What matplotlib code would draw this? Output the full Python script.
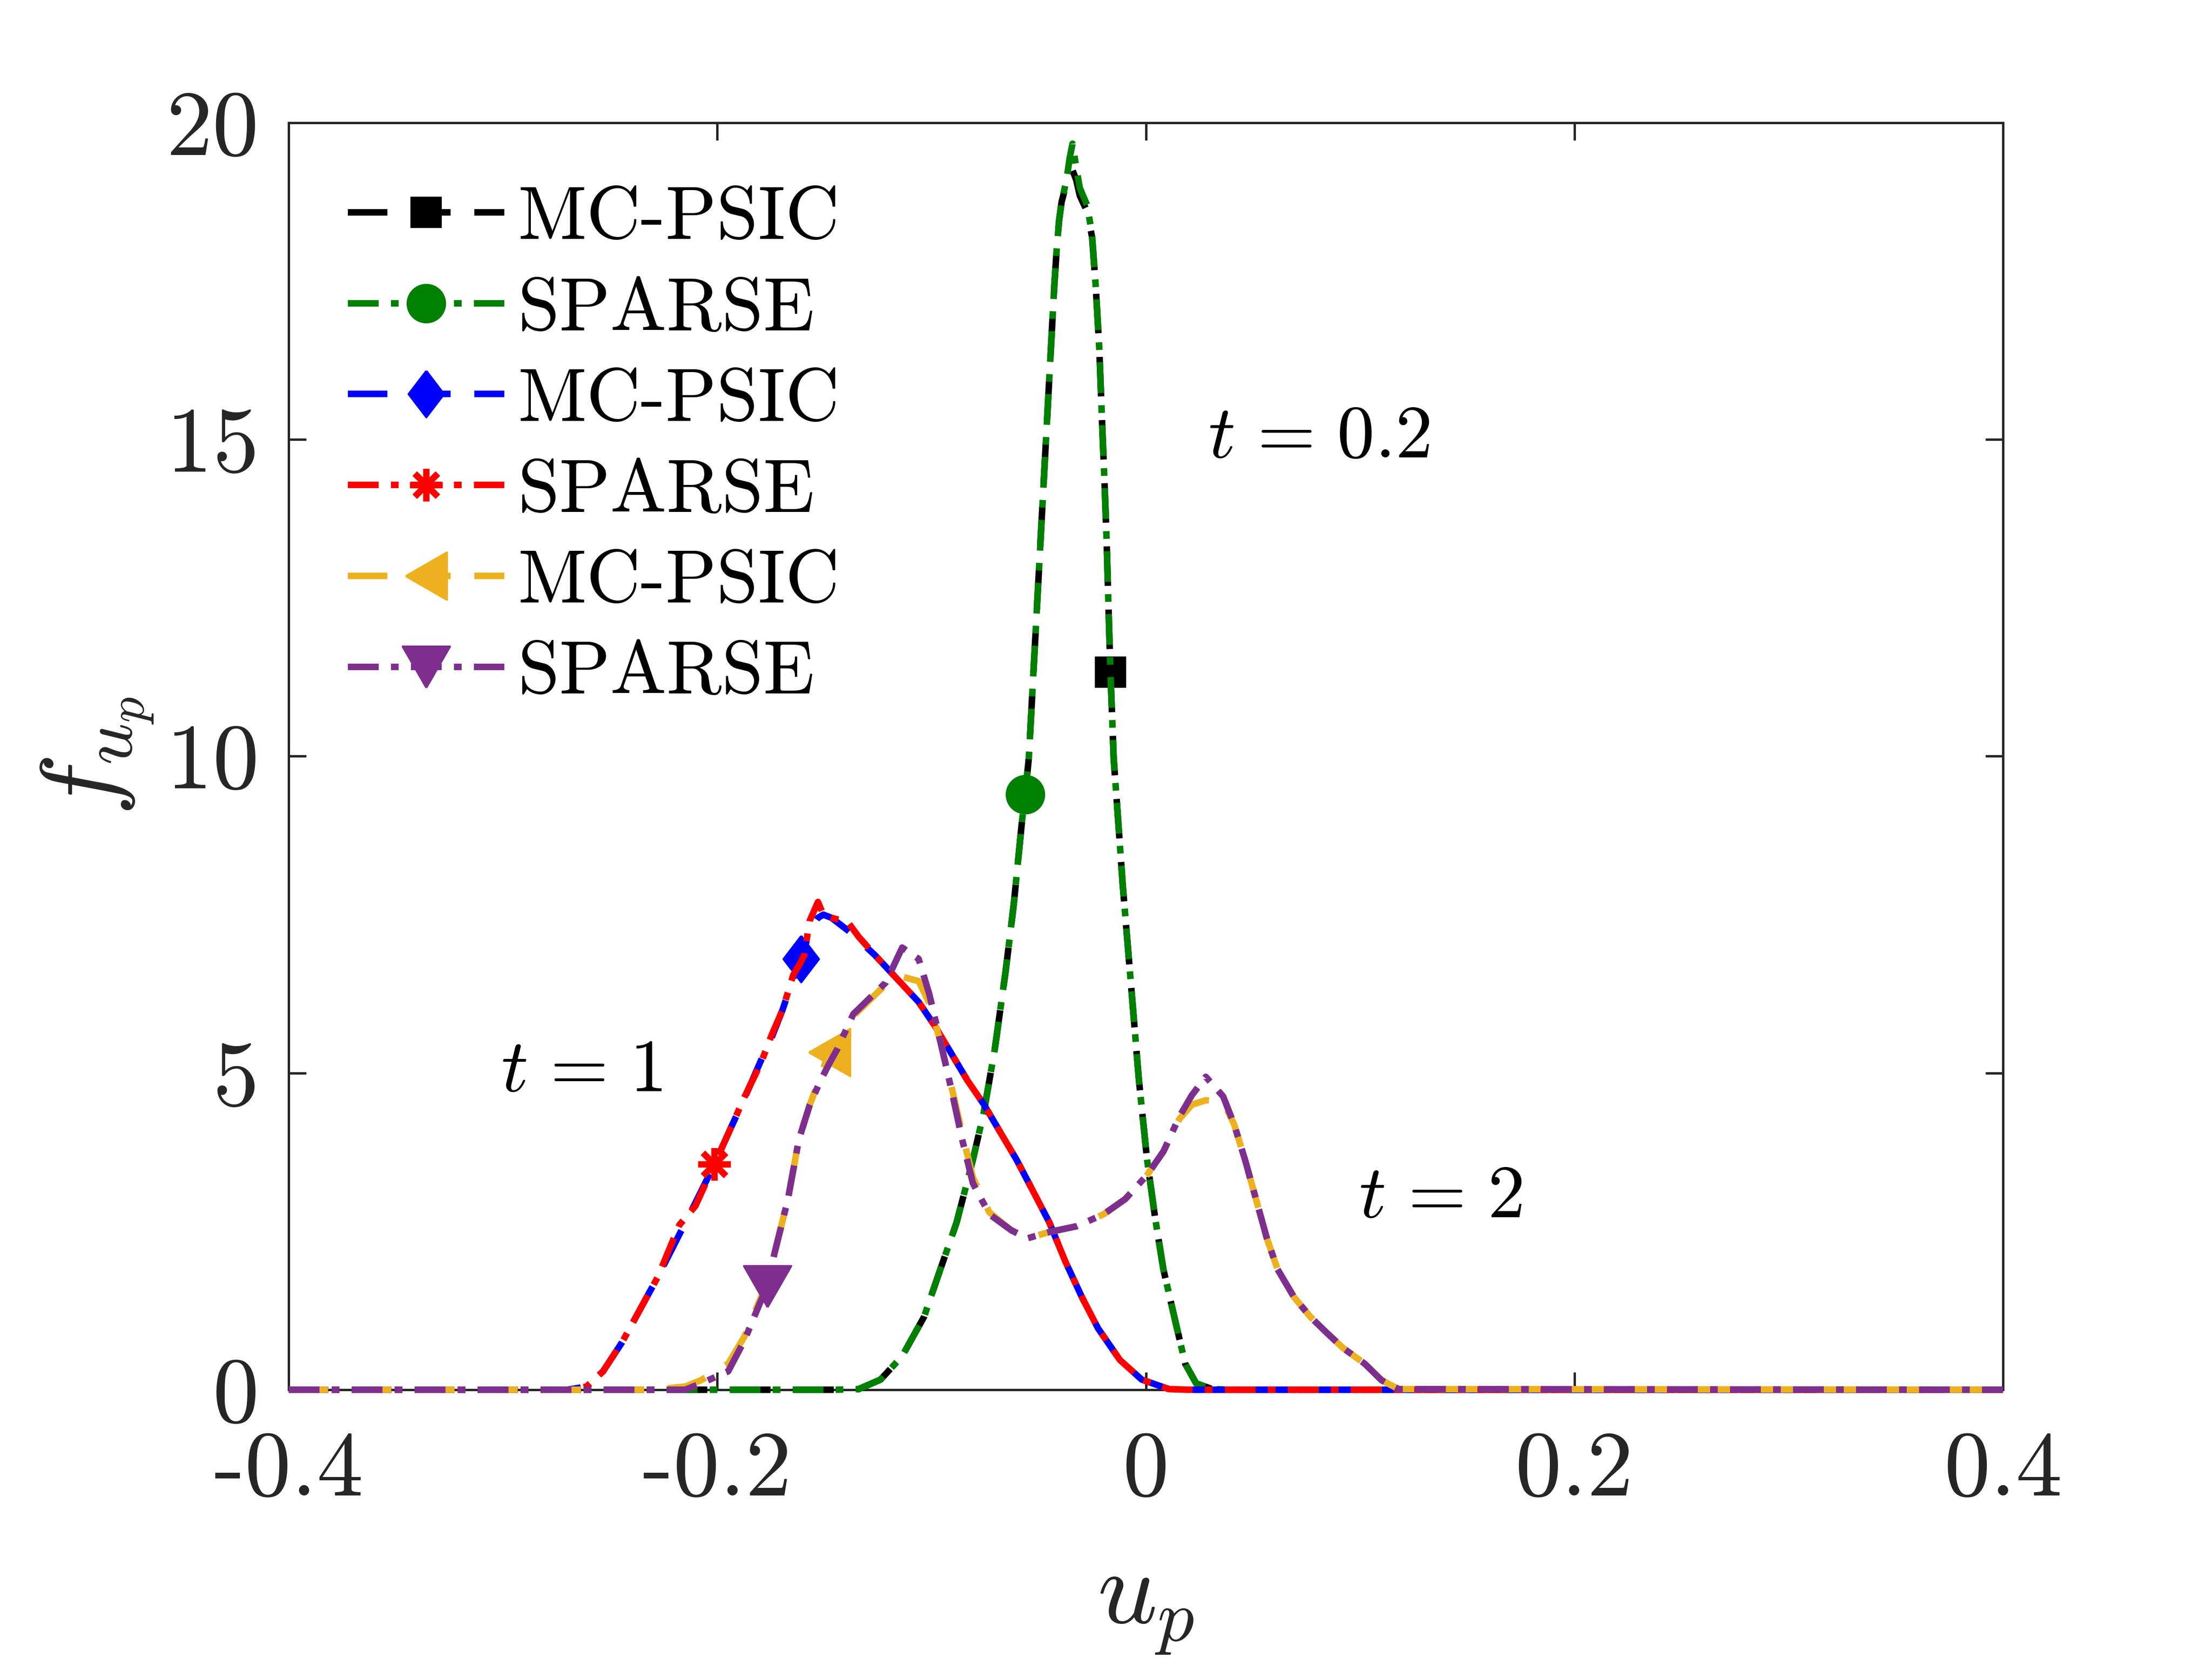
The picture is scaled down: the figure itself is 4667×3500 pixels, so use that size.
import numpy as np
import matplotlib
matplotlib.use("Agg")
import matplotlib.pyplot as plt

plt.rcParams['font.family'] = 'cmr10'
plt.rcParams['mathtext.fontset'] = 'cm'
plt.rcParams['axes.unicode_minus'] = False
plt.rcParams['lines.scale_dashes'] = False

# t = 0.2 : MC-PSIC (black) and SPARSE (green)
x_02 = [-0.4, -0.145, -0.134, -0.1238, -0.1137, -0.1035, -0.0959, -0.0883, -0.0807,
        -0.0756, -0.0705, -0.0654, -0.0616, -0.0578, -0.0563, -0.0546, -0.0529, -0.0512,
        -0.0495, -0.0478, -0.0461, -0.0444, -0.0427, -0.0416, -0.0405, -0.0393, -0.037,
        -0.0355, -0.0342, -0.0325, -0.0308, -0.0274, -0.0251, -0.0234, -0.0217, -0.0206,
        -0.0194, -0.0183, -0.0172, -0.0165, -0.015, -0.0134, -0.0108, -0.007, -0.0032,
        0.0006, 0.0044, 0.0082, 0.0133, 0.0184, 0.0235, 0.031, 0.04, 0.4]
y_sp_02 = [0, 0, 0.01, 0.16, 0.53, 1.15, 1.90, 2.64, 3.63,
           4.38, 5.37, 6.61, 7.67, 8.97, 9.40, 9.97, 11.04, 12.10,
           13.17, 14.24, 15.30, 16.37, 17.43, 18.00, 18.45, 18.75, 19.10,
           19.45, 19.67, 19.30, 18.97, 18.70, 18.24, 17.43, 16.43, 15.43,
           14.43, 13.43, 12.09, 11.33, 9.97, 9.22, 7.98, 6.43, 4.88,
           3.63, 2.70, 1.90, 1.15, 0.41, 0.10, 0.01, 0, 0]
y_mc_02 = [0, 0, 0.01, 0.16, 0.53, 1.15, 1.90, 2.64, 3.63,
           4.38, 5.37, 6.61, 7.67, 8.97, 9.40, 9.97, 11.04, 12.10,
           13.17, 14.24, 15.30, 16.37, 17.43, 18.00, 18.45, 18.75, 19.05,
           19.20, 19.25, 19.10, 18.85, 18.60, 18.20, 17.43, 16.43, 15.43,
           14.43, 13.43, 12.09, 11.33, 9.97, 9.22, 7.98, 6.43, 4.88,
           3.63, 2.70, 1.90, 1.15, 0.41, 0.10, 0.01, 0, 0]

# t = 1 : MC-PSIC (blue) and SPARSE (red)
x_1 = [-0.4, -0.27, -0.261, -0.2533, -0.2444, -0.2368, -0.2279, -0.2177, -0.2102,
       -0.2013, -0.1937, -0.1873, -0.1797, -0.1746, -0.1696, -0.1645, -0.161, -0.1594,
       -0.1569, -0.153, -0.1505, -0.1467, -0.139, -0.134, -0.1264, -0.1162, -0.106,
       -0.0984, -0.0908, -0.0832, -0.0755, -0.068, -0.0603, -0.0527, -0.045, -0.0375,
       -0.0298, -0.0223, -0.0121, -0.0019, 0.0108, 0.02, 0.4]
y_mc_1 = [0, 0, 0.05, 0.29, 0.75, 1.22, 1.77, 2.45, 2.95,
          3.56, 4.13, 4.60, 5.19, 5.56, 5.99, 6.50, 6.80, 6.95,
          7.25, 7.45, 7.50, 7.45, 7.25, 7.10, 6.86, 6.49, 6.12,
          5.74, 5.31, 4.88, 4.50, 4.07, 3.63, 3.14, 2.64, 2.02,
          1.46, 0.97, 0.47, 0.16, 0.01, 0, 0]
y_sp_1 = [0, 0, 0.05, 0.29, 0.75, 1.22, 1.77, 2.60, 2.90,
          3.56, 4.13, 4.62, 5.15, 5.60, 5.99, 6.55, 6.75, 6.86,
          7.40, 7.70, 7.50, 7.45, 7.38, 7.15, 6.86, 6.49, 6.12,
          5.74, 5.31, 4.88, 4.50, 4.07, 3.63, 3.14, 2.64, 2.02,
          1.46, 0.97, 0.47, 0.16, 0.01, 0, 0]

# t = 2 : MC-PSIC (yellow) and SPARSE (purple)
x_2 = [-0.4, -0.23, -0.215, -0.2076, -0.1949, -0.1873, -0.1797, -0.1766, -0.1733,
       -0.167, -0.1619, -0.1568, -0.1518, -0.1477, -0.1441, -0.1365, -0.1289, -0.1213,
       -0.1137, -0.106, -0.101, -0.0959, -0.0908, -0.0857, -0.0807, -0.073, -0.0629,
       -0.0553, -0.045, -0.0324, -0.0197, -0.0096, 0.0006, 0.0082, 0.0158, 0.0215,
       0.028, 0.0361, 0.0412, 0.0463, 0.0514, 0.0565, 0.0615, 0.0692, 0.0768,
       0.0844, 0.092, 0.1022, 0.11, 0.118, 0.4]
y_mc_2 = [0, 0, 0.05, 0.15, 0.41, 0.84, 1.45, 1.70, 2.15,
          3.01, 3.95, 4.50, 4.95, 5.33, 5.40, 5.90, 6.15, 6.40,
          6.52, 6.45, 6.10, 5.50, 4.80, 4.05, 3.35, 2.80, 2.52,
          2.39, 2.49, 2.58, 2.77, 3.01, 3.39, 3.76, 4.28, 4.50,
          4.57, 4.55, 4.19, 3.63, 3.01, 2.39, 1.90, 1.46, 1.15,
          0.90, 0.66, 0.41, 0.15, 0.01, 0]
y_sp_2 = [0, 0, 0.0, 0.10, 0.29, 0.78, 1.40, 1.63, 2.15,
          3.01, 3.95, 4.50, 4.88, 5.15, 5.37, 5.93, 6.18, 6.43,
          6.98, 6.80, 6.24, 5.50, 4.75, 3.95, 3.26, 2.77, 2.52,
          2.39, 2.49, 2.58, 2.77, 3.01, 3.39, 3.76, 4.32, 4.65,
          4.94, 4.63, 4.19, 3.63, 3.01, 2.39, 1.90, 1.46, 1.15,
          0.90, 0.66, 0.41, 0.15, 0.01, 0]

labels = ['MC-PSIC', 'SPARSE', 'MC-PSIC', 'SPARSE', 'MC-PSIC', 'SPARSE']
xticks = [-0.4, -0.2, 0, 0.2, 0.4]
xtick_labels = ['-0.4', '-0.2', '0', '0.2', '0.4']
yticks = [0, 5, 10, 15, 20]
ytick_labels = ['0', '5', '10', '15', '20']

# marker positions (one marker per curve)
i_sq = x_02.index(-0.0165)
i_circ = x_02.index(-0.0563)
i_diam = x_1.index(-0.161)
i_star = x_1.index(-0.2013)
i_ltri = x_2.index(-0.1477)
i_dtri = x_2.index(-0.1766)

DASH = (0, (20, 12))
DASHDOT = (0, (15.6, 6.2, 3.9, 6.2))
diamond = [(0, 1), (0.765, 0), (0, -1), (-0.765, 0), (0, 1)]
left_tri = [(-0.435, 0), (0.435, 0.5), (0.435, -0.5), (-0.435, 0)]
down_tri = [(0, -0.435), (-0.5, 0.435), (0.5, 0.435), (0, -0.435)]

black = 'k'
green = '#008000'
blue = '#0000FF'
red = '#FF0000'
yellow = '#EDB120'
purple = '#7E2F8E'

fig = plt.figure(figsize=(4667 / 300, 3500 / 300), dpi=300)
ax = fig.add_axes([0.1305, 0.1623, 0.775, 0.7637])

lw = 3.3
ax.plot(x_02, y_mc_02, color=black, ls=DASH, lw=lw, marker='s', ms=15,
        markevery=[i_sq], mfc=black, mec=black, mew=1, label=labels[0], clip_on=False)
ax.plot(x_02, y_sp_02, color=green, ls=DASHDOT, lw=lw, marker='o', ms=19,
        markevery=[i_circ], mfc=green, mec=green, mew=1, label=labels[1], clip_on=False)
ax.plot(x_1, y_mc_1, color=blue, ls=DASH, lw=lw, marker=diamond, ms=23.5,
        markevery=[i_diam], mfc=blue, mec=blue, mew=1, label=labels[2], clip_on=False)
ax.plot(x_1, y_sp_1, color=red, ls=DASHDOT, lw=lw, marker=(8, 2, 0), ms=16.5,
        markevery=[i_star], mfc=red, mec=red, mew=3.2, label=labels[3], clip_on=False)
ax.plot(x_2, y_mc_2, color=yellow, ls=DASH, lw=lw, marker=left_tri, ms=24,
        markevery=[i_ltri], mfc=yellow, mec=yellow, mew=1, label=labels[4], clip_on=False)
ax.plot(x_2, y_sp_2, color=purple, ls=DASHDOT, lw=lw, marker=down_tri, ms=24,
        markevery=[i_dtri], mfc=purple, mec=purple, mew=1, label=labels[5], clip_on=False)

ax.set_xlim(-0.4, 0.4)
ax.set_ylim(0, 20)
ax.set_xticks(xticks)
ax.set_xticklabels(xtick_labels)
ax.set_yticks(yticks)
ax.set_yticklabels(ytick_labels)
ax.tick_params(direction='in', top=True, right=True, length=8.9, width=1.2,
               colors='#262626', labelsize=47)
ax.tick_params(axis='x', pad=21)
ax.tick_params(axis='y', pad=15)
for s in ax.spines.values():
    s.set_linewidth(1.2)
    s.set_color('#262626')
    s.set_zorder(1)

ax.set_xlabel(r'$u_p$', fontsize=53, va='baseline', color='#262626')
ax.xaxis.set_label_coords(0.5, -0.1844)
ax.set_ylabel(r'$f_{u_p}$', fontsize=53, va='baseline', color='#262626')
ax.yaxis.set_label_coords(-0.1017, 0.5)

ax.text(0.029, 14.72, r'$t\hspace{0.13}=\hspace{0.13}0.2$', fontsize=38, va='baseline', ha='left')
ax.text(-0.301, 4.71, r'$t\hspace{0.13}=\hspace{0.13}1$', fontsize=38, va='baseline', ha='left')
ax.text(0.0995, 2.72, r'$t\hspace{0.13}=\hspace{0.13}2$', fontsize=38, va='baseline', ha='left')

ax.legend(loc='upper left', bbox_to_anchor=(0.0346, 0.95), frameon=False,
          fontsize=38, handlelength=2.08, handletextpad=0.18, labelspacing=0.315,
          borderpad=0, borderaxespad=0, numpoints=1)

fig.savefig('out.png', dpi=300)
